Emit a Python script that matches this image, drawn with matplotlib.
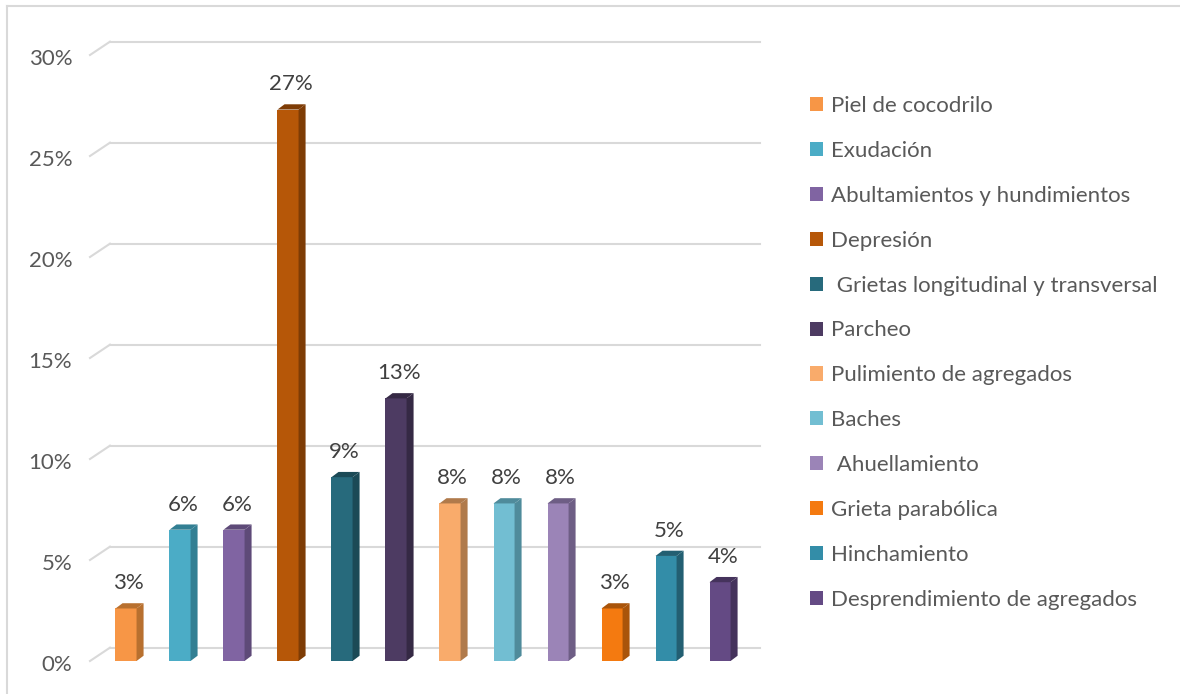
import matplotlib.pyplot as plt
from matplotlib.patches import Patch
from matplotlib.lines import Line2D

plt.rcParams['font.family'] = ['Lato', 'DejaVu Sans']

categorias = ['Piel de cocodrilo', 'Exudación', 'Abultamientos y hundimientos',
              'Depresión', ' Grietas longitudinal y transversal', 'Parcheo',
              'Pulimiento de agregados', 'Baches', ' Ahuellamiento',
              'Grieta parabólica', 'Hinchamiento', 'Desprendimiento de agregados']
valores = [0.026, 0.065, 0.065, 0.273, 0.091, 0.130, 0.078, 0.078, 0.078, 0.026, 0.052, 0.039]
etiquetas = ['3%', '6%', '6%', '27%', '9%', '13%', '8%', '8%', '8%', '3%', '5%', '4%']
colores = ['#F79646', '#4BACC6', '#8064A2', '#B65708', '#276A7C', '#4D3B62',
           '#F9AB6B', '#72BED2', '#9B84B7', '#F47A10', '#338DA8', '#644A84']
oscuros = ['#B8702F', '#327F93', '#5E4A78', '#7E3C05', '#1B4A56', '#352944',
           '#B07A4B', '#4F8B9B', '#6E5E85', '#A9540A', '#235F72', '#45335C']

ticks = [0, 0.05, 0.10, 0.15, 0.20, 0.25, 0.30]
tick_labels = ['0%', '5%', '10%', '15%', '20%', '25%', '30%']

fig = plt.figure(figsize=(11.8, 6.94), dpi=100)
ax = fig.add_axes([90 / 1180, 33 / 694, 670 / 1180, 606 / 694])
ax.set_xlim(-0.667, 11.74)
ax.set_ylim(0, 0.30)
ax.axis('off')

gris = '#D9D9D9'
dx, dy = 0.37, 0.0066
for t, lab in zip(ticks, tick_labels):
    ax.plot([-0.667, -0.667 + dx], [t, t + dy], color=gris, lw=1.5, clip_on=False)
    ax.plot([-0.667 + dx, 11.74], [t + dy, t + dy], color=gris, lw=1.5, clip_on=False)
    ax.text(-0.667 - 0.33, t - 0.002, lab, ha='right', va='center', fontsize=16, color='#595959')

w = 0.39
sx, sy = 0.13, 0.0026
for i, (v, c, d, e) in enumerate(zip(valores, colores, oscuros, etiquetas)):
    ax.bar(i, v, width=w, color=c, zorder=3)
    r = i + w / 2
    l = i - w / 2
    ax.fill([r, r + sx, r + sx, r], [0, sy, v + sy, v], color=d, zorder=3, lw=0)
    ax.fill([l, r, r + sx, l + sx], [v, v, v + sy, v + sy], color=d, zorder=3, lw=0)
    ax.text(i + 0.05, v + 0.0075, e, ha='center', va='bottom', fontsize=16, color='#404040')

handles = [Patch(facecolor=c, edgecolor='none') for c in colores]
fig.legend(handles, categorias, loc='upper left', bbox_to_anchor=(790 / 1180, 1 - 76 / 694),
           frameon=False, fontsize=16, labelcolor='#595959', handlelength=0.6,
           handleheight=0.6, handletextpad=0.35, labelspacing=1.12)

# marco exterior
fig.add_artist(Line2D([7 / 1180, 7 / 1180], [0, 1 - 6 / 694], color=gris, lw=1.5))
fig.add_artist(Line2D([7 / 1180, 1], [1 - 6 / 694, 1 - 6 / 694], color=gris, lw=1.5))

fig.savefig('out.png', dpi=100)
